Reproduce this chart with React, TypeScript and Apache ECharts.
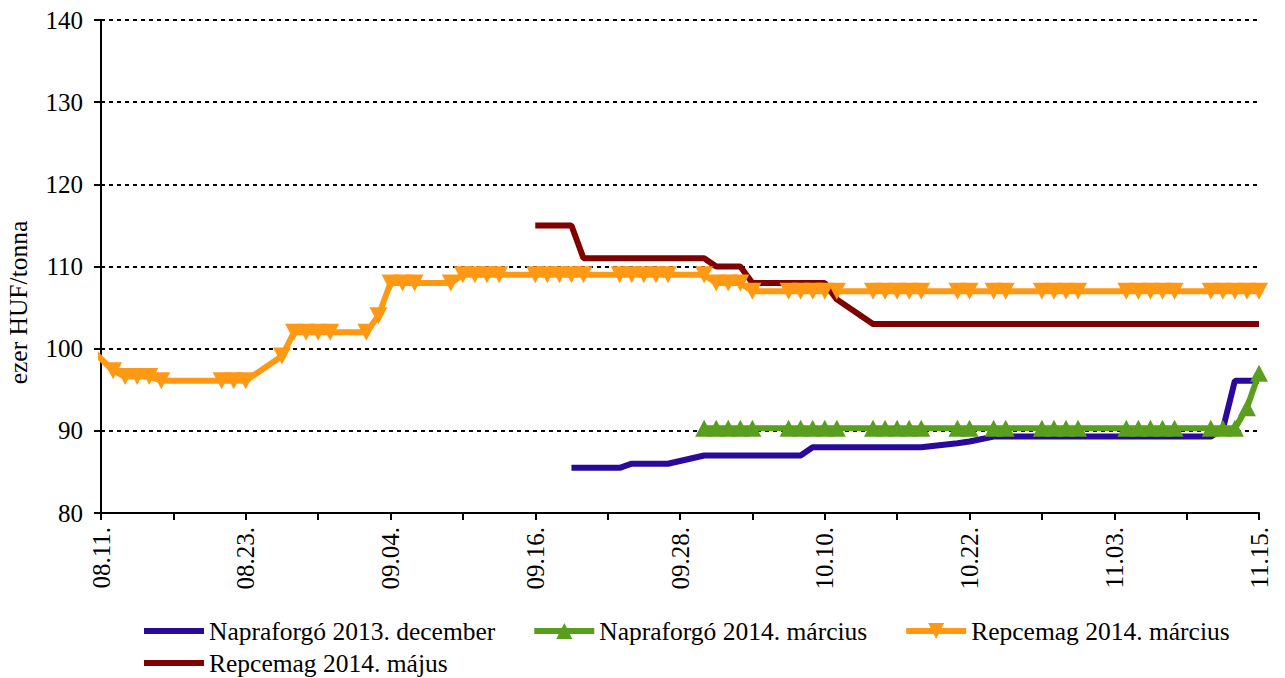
import React, { useEffect, useRef } from "react";
import * as echarts from "echarts";

// Trading days (2013), as MM.DD
const dates = [
  "08.09",
  "08.12", "08.13", "08.14", "08.15", "08.16",
  "08.21", "08.22", "08.23",
  "08.26", "08.27", "08.28", "08.29", "08.30",
  "09.02", "09.03", "09.04", "09.05", "09.06",
  "09.09", "09.10", "09.11", "09.12", "09.13",
  "09.16", "09.17", "09.18", "09.19", "09.20",
  "09.23", "09.24", "09.25", "09.26", "09.27",
  "09.30", "10.01", "10.02", "10.03", "10.04",
  "10.07", "10.08", "10.09", "10.10", "10.11",
  "10.14", "10.15", "10.16", "10.17", "10.18",
  "10.21", "10.22", "10.24", "10.25",
  "10.28", "10.29", "10.30", "10.31",
  "11.04", "11.05", "11.06", "11.07", "11.08",
  "11.11", "11.12", "11.13", "11.14", "11.15",
];

const N = null;

const napraforgoDec = [
  N,
  N, N, N, N, N,
  N, N, N,
  N, N, N, N, N,
  N, N, N, N, N,
  N, N, N, N, N,
  N, N, N, 85.5, 85.5,
  85.5, 86, 86, 86, 86,
  87, 87, 87, 87, 87,
  87, 87, 88, 88, 88,
  88, 88, 88, 88, 88,
  88.5, 88.7, 89.3, 89.3,
  89.3, 89.3, 89.3, 89.3,
  89.3, 89.3, 89.3, 89.3, 89.3,
  89.3, 90.2, 96.1, 96.1, 96.1,
];

const napraforgoMar = [
  N,
  N, N, N, N, N,
  N, N, N,
  N, N, N, N, N,
  N, N, N, N, N,
  N, N, N, N, N,
  N, N, N, N, N,
  N, N, N, N, N,
  90.3, 90.3, 90.3, 90.3, 90.3,
  90.3, 90.3, 90.3, 90.3, 90.3,
  90.3, 90.3, 90.3, 90.3, 90.3,
  90.3, 90.3, 90.3, 90.3,
  90.3, 90.3, 90.3, 90.3,
  90.3, 90.3, 90.3, 90.3, 90.3,
  90.3, 90.3, 90.3, 92.8, 97.0,
];

const repcemagMar = [
  101.7,
  97.3, 96.6, 96.6, 96.6, 96.1,
  96.1, 96.1, 96.1,
  99.1, 102, 102, 102, 102,
  102, 104, 108, 108, 108,
  108, 109, 109, 109, 109,
  109, 109, 109, 109, 109,
  109, 109, 109, 109, 109,
  109, 108, 108, 108, 107,
  107, 107, 107, 107, 107,
  107, 107, 107, 107, 107,
  107, 107, 107, 107,
  107, 107, 107, 107,
  107, 107, 107, 107, 107,
  107, 107, 107, 107, 107,
];

const repcemagMaj = [
  N,
  N, N, N, N, N,
  N, N, N,
  N, N, N, N, N,
  N, N, N, N, N,
  N, N, N, N, N,
  115, 115, 115, 115, 111,
  111, 111, 111, 111, 111,
  111, 110, 110, 110, 108,
  108, 108, 108, 108, 106,
  103, 103, 103, 103, 103,
  103, 103, 103, 103,
  103, 103, 103, 103,
  103, 103, 103, 103, 103,
  103, 103, 103, 103, 103,
];

const seriesNames = [
  "Napraforgó 2013. december",
  "Napraforgó 2014. március",
  "Repcemag 2014. március",
  "Repcemag 2014. május",
];

const tickLabels = ["08.11.", "08.23.", "09.04.", "09.16.", "09.28.", "10.10.", "10.22.", "11.03.", "11.15."];

const FONT = "Liberation Serif";

function dayOffset(s: string): number {
  const [m, d] = s.split(".").map(Number);
  return Math.round((Date.UTC(2013, m - 1, d) - Date.UTC(2013, 7, 11)) / 86400000);
}

function pairs(values: (number | null)[]) {
  const out: [number, number][] = [];
  values.forEach((v, i) => {
    if (v !== null) out.push([dayOffset(dates[i]), v]);
  });
  return out;
}

export default function App() {
  const ref = useRef<HTMLDivElement>(null);

  useEffect(() => {
    if (!ref.current) return;
    const chart = echarts.init(ref.current, undefined, { renderer: "svg" });
    const colors = ["#2A0A9C", "#5A9E1E", "#FF9914", "#800000"];
    const legendText = { fontFamily: FONT, fontSize: 25.5, color: "#000" };
    const LW = 6;
    const legendBase = {
      left: 141,
      padding: 0,
      itemWidth: 60,
      itemHeight: 20,
      itemGap: 36,
      textStyle: legendText,
      lineStyle: { width: 6 },
    };
    chart.setOption({
      animation: false,
      backgroundColor: "#ffffff",
      textStyle: { fontFamily: FONT, color: "#000" },
      grid: {
        left: 101,
        right: 26,
        top: 20,
        bottom: 165,
        containLabel: false,
        outerBoundsMode: "none",
      },
      legend: [
        {
          ...legendBase,
          top: 618,
          data: [
            { name: seriesNames[0], itemStyle: { opacity: 0 } },
            { name: seriesNames[1] },
            { name: seriesNames[2] },
          ],
        },
        {
          ...legendBase,
          top: 650,
          data: [{ name: seriesNames[3], itemStyle: { opacity: 0 } }],
        },
      ],
      xAxis: {
        type: "value",
        min: 0,
        max: 96,
        interval: 6,
        axisLine: { show: true, onZero: false, lineStyle: { color: "#000", width: 2 } },
        axisTick: { show: true, inside: false, length: 7, lineStyle: { color: "#000", width: 2 } },
        axisLabel: {
          rotate: 90,
          margin: 14,
          fontFamily: FONT,
          fontSize: 25,
          color: "#000",
          formatter: (v: number) => (v % 12 === 0 ? tickLabels[v / 12] : ""),
        },
        splitLine: { show: false },
      },
      yAxis: {
        type: "value",
        min: 80,
        max: 140,
        interval: 10,
        name: "ezer HUF/tonna",
        nameLocation: "middle",
        nameGap: 70,
        nameTextStyle: { fontFamily: FONT, fontSize: 25.5, color: "#000", padding: [0, 72, 0, 0] },
        axisLine: { show: true, lineStyle: { color: "#000", width: 2 } },
        axisTick: { show: true, inside: false, length: 7, lineStyle: { color: "#000", width: 2 } },
        axisLabel: { margin: 18, fontFamily: FONT, fontSize: 25, color: "#000" },
        splitLine: { show: true, lineStyle: { color: "#000", width: 2, type: [4, 4] } },
      },
      series: [
        {
          name: seriesNames[0],
          type: "line",
          data: pairs(napraforgoDec),
          symbol: "none",
          lineStyle: { color: colors[0], width: LW },
          itemStyle: { color: colors[0] },
        },
        {
          name: seriesNames[1],
          type: "line",
          data: pairs(napraforgoMar),
          symbol: "triangle",
          symbolSize: [18, 17],
          showAllSymbol: true,
          lineStyle: { color: colors[1], width: LW },
          itemStyle: { color: colors[1] },
        },
        {
          name: seriesNames[2],
          type: "line",
          data: pairs(repcemagMar),
          symbol: "triangle",
          symbolRotate: 180,
          symbolSize: [18, 17],
          showAllSymbol: true,
          lineStyle: { color: colors[2], width: LW },
          itemStyle: { color: colors[2] },
        },
        {
          name: seriesNames[3],
          type: "line",
          data: pairs(repcemagMaj),
          symbol: "none",
          lineStyle: { color: colors[3], width: LW },
          itemStyle: { color: colors[3] },
        },
      ],
    });
    return () => chart.dispose();
  }, []);

  return (
    <div
      ref={ref}
      style={{ position: "fixed", left: 0, top: 0, width: 1285, height: 678, background: "#fff" }}
    />
  );
}
